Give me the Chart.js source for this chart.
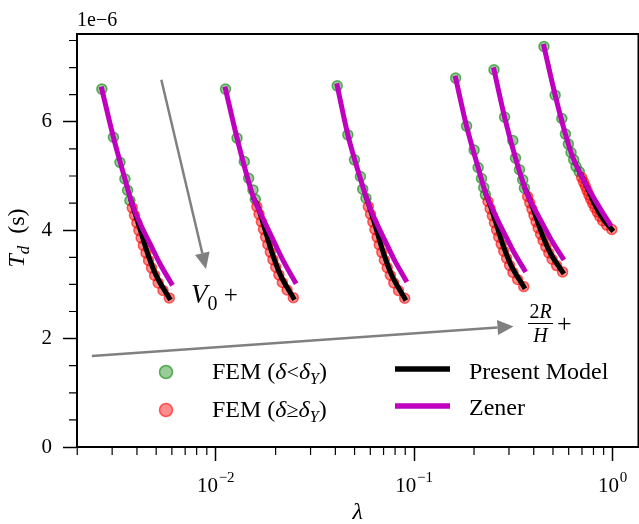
<!DOCTYPE html>
<html>
<head>
<meta charset="utf-8">
<script src="https://cdn.jsdelivr.net/npm/chart.js@4.4.0/dist/chart.umd.min.js"></script>
<style>
  html, body { margin: 0; padding: 0; background: #fff; overflow: hidden; }
  canvas { display: block; }
</style>
</head>
<body>
<canvas id="chart" width="645" height="524"></canvas>
<script>
// x = lambda, y = contact time T_d in units of 1e-6 s; one sub-array per curve group
const greenLam = [
    [0.002661, 0.003045, 0.003284, 0.003478, 0.003589, 0.003685],
    [0.01118, 0.01278, 0.01391, 0.01462, 0.01537, 0.01580],
    [0.04088, 0.04624, 0.04993, 0.05351, 0.05495, 0.05707],
    [0.1616, 0.1834, 0.2002, 0.2097, 0.2181, 0.2239, 0.2283],
    [0.2521, 0.2851, 0.3136, 0.3236, 0.3388, 0.3519, 0.3589],
    [0.4502, 0.5129, 0.5541, 0.5776, 0.5978, 0.6166, 0.6360, 0.6531, 0.6783]
];
const greenT = [
    [6.603, 5.714, 5.252, 4.946, 4.736, 4.547],
    [6.603, 5.699, 5.267, 4.959, 4.744, 4.572],
    [6.664, 5.760, 5.298, 4.990, 4.757, 4.591],
    [6.806, 5.921, 5.478, 5.157, 4.954, 4.788, 4.652],
    [6.960, 6.087, 5.656, 5.331, 5.115, 4.930, 4.776],
    [7.390, 6.492, 6.061, 5.773, 5.589, 5.434, 5.299, 5.175, 5.077]
];

const redLam = [
    [0.003789, 0.003888, 0.003995, 0.004093, 0.004200, 0.004310, 0.004441, 0.004578, 0.004737, 0.004913, 0.005118, 0.005412, 0.005820],
    [0.01609, 0.01650, 0.01695, 0.01736, 0.01781, 0.01827, 0.01881, 0.01938, 0.02004, 0.02078, 0.02163, 0.02285, 0.02455],
    [0.05867, 0.06017, 0.06179, 0.06329, 0.06491, 0.06658, 0.06857, 0.07063, 0.07304, 0.07571, 0.07882, 0.08326, 0.08942],
    [0.2352, 0.2411, 0.2475, 0.2534, 0.2598, 0.2663, 0.2742, 0.2823, 0.2918, 0.3022, 0.3144, 0.3318, 0.3560],
    [0.3727, 0.3819, 0.3917, 0.4009, 0.4108, 0.4209, 0.4330, 0.4455, 0.4601, 0.4763, 0.4949, 0.5216, 0.5589],
    [0.6974, 0.7122, 0.7279, 0.7426, 0.7583, 0.7743, 0.7935, 0.8131, 0.8361, 0.8613, 0.8903, 0.9316, 0.9888]
];
const redT = [
    [4.412, 4.274, 4.135, 3.997, 3.858, 3.720, 3.582, 3.443, 3.305, 3.166, 3.028, 2.889, 2.751],
    [4.436, 4.296, 4.156, 4.016, 3.876, 3.736, 3.596, 3.456, 3.316, 3.176, 3.036, 2.896, 2.756],
    [4.436, 4.295, 4.154, 4.013, 3.872, 3.731, 3.591, 3.450, 3.309, 3.168, 3.027, 2.886, 2.745],
    [4.529, 4.398, 4.267, 4.137, 4.006, 3.875, 3.744, 3.613, 3.483, 3.352, 3.221, 3.090, 2.960],
    [4.621, 4.505, 4.389, 4.274, 4.158, 4.042, 3.926, 3.810, 3.695, 3.579, 3.463, 3.347, 3.231],
    [4.972, 4.892, 4.812, 4.733, 4.653, 4.573, 4.493, 4.414, 4.334, 4.254, 4.174, 4.094, 4.015]
];

// present model: leaves the Zener curve where the FEM points turn red
const modelLam = [
    [0.003735, 0.003833, 0.004164, 0.004518, 0.004998, 0.005820],
    [0.01557, 0.01628, 0.01766, 0.01914, 0.02114, 0.02455],
    [0.05741, 0.05935, 0.06439, 0.06976, 0.07703, 0.08942],
    [0.2304, 0.2379, 0.2578, 0.2790, 0.3075, 0.3560],
    [0.3610, 0.3770, 0.4079, 0.4405, 0.4846, 0.5589],
    [0.6879, 0.7055, 0.7555, 0.8073, 0.8763, 0.9888]
];
const modelT = [
    [4.547, 4.412, 3.997, 3.582, 3.166, 2.751],
    [4.572, 4.436, 4.016, 3.596, 3.176, 2.756],
    [4.591, 4.436, 4.013, 3.591, 3.168, 2.745],
    [4.652, 4.529, 4.137, 3.744, 3.352, 2.960],
    [4.776, 4.621, 4.274, 3.926, 3.579, 3.231],
    [5.040, 4.972, 4.733, 4.493, 4.254, 4.015]
];

const zenerLam = [
    [0.002661, 0.003045, 0.003478, 0.003735, 0.003936, 0.004300, 0.004732, 0.005200, 0.005957],
    [0.01118, 0.01278, 0.01445, 0.01557, 0.01660, 0.01822, 0.01997, 0.02193, 0.02503],
    [0.04088, 0.04624, 0.05309, 0.05741, 0.06064, 0.06622, 0.07253, 0.07943, 0.09048],
    [0.1616, 0.1834, 0.2097, 0.2304, 0.2427, 0.2649, 0.2893, 0.3162, 0.3589],
    [0.2521, 0.2851, 0.3236, 0.3610, 0.3824, 0.4178, 0.4545, 0.4949, 0.5592],
    [0.4502, 0.5129, 0.5776, 0.6310, 0.6879, 0.7499, 0.8222, 0.8913, 0.9661]
];
const zenerT = [
    [6.603, 5.714, 4.946, 4.547, 4.320, 4.004, 3.699, 3.395, 3.022],
    [6.603, 5.699, 4.960, 4.572, 4.349, 4.034, 3.729, 3.424, 3.051],
    [6.664, 5.760, 4.990, 4.591, 4.357, 4.043, 3.746, 3.448, 3.083],
    [6.806, 5.921, 5.157, 4.652, 4.467, 4.163, 3.886, 3.607, 3.267],
    [6.960, 6.087, 5.331, 4.776, 4.560, 4.292, 4.043, 3.795, 3.489],
    [7.390, 6.492, 5.773, 5.335, 5.040, 4.781, 4.532, 4.320, 4.117]
];

const xTicks = [0.01, 0.1, 1];
const yTicks = [0, 2, 4, 6];

const SERIF = '"Liberation Serif", "Times New Roman", serif';
const GREEN_FILL = 'rgba(0, 128, 0, 0.4)';
const GREEN_EDGE = 'rgba(0, 128, 0, 0.6)';
const RED_FILL = 'rgba(255, 0, 0, 0.45)';
const RED_EDGE = 'rgba(255, 0, 0, 0.6)';
const MAGENTA = '#bf00bf';
const ARROW_GRAY = '#808080';

function toPoints(xs, ys) {
    return xs.map((x, i) => ({ x: x, y: ys[i] }));
}

// build datasets, one set of four per group
const datasets = [];
for (let g = 0; g < greenLam.length; g++) {
    datasets.push({
        type: 'line', label: 'Zener', data: toPoints(zenerLam[g], zenerT[g]),
        borderColor: MAGENTA, borderWidth: 5, pointRadius: 0, fill: false,
        cubicInterpolationMode: 'monotone', borderCapStyle: 'square', order: 0
    });
    datasets.push({
        type: 'line', label: 'Present Model', data: toPoints(modelLam[g], modelT[g]),
        borderColor: '#000', borderWidth: 5, pointRadius: 0, fill: false,
        cubicInterpolationMode: 'monotone', borderCapStyle: 'square', order: 1
    });
    datasets.push({
        type: 'scatter', label: 'FEM (δ≥δY)', data: toPoints(redLam[g], redT[g]),
        backgroundColor: RED_FILL, borderColor: RED_EDGE, borderWidth: 1.5, pointRadius: 5, order: 2
    });
    datasets.push({
        type: 'scatter', label: 'FEM (δ<δY)', data: toPoints(greenLam[g], greenT[g]),
        backgroundColor: GREEN_FILL, borderColor: GREEN_EDGE, borderWidth: 1.5, pointRadius: 5, order: 3
    });
}

// draws a row of text pieces (font, text, vertical shift); returns its width
function drawRun(ctx, parts, x, y, align) {
    let total = 0;
    parts.forEach(p => { ctx.font = p.font; total += ctx.measureText(p.text).width; });
    let cx = align === 'center' ? x - total / 2 : x;
    ctx.textAlign = 'left';
    ctx.textBaseline = 'alphabetic';
    parts.forEach(p => {
        ctx.font = p.font;
        ctx.fillText(p.text, cx, y + (p.dy || 0));
        cx += ctx.measureText(p.text).width;
    });
    return total;
}

function drawArrow(ctx, x1, y1, x2, y2) {
    const ang = Math.atan2(y2 - y1, x2 - x1);
    const hl = 16, hw = 7.5;
    const bx = x2 - hl * Math.cos(ang), by = y2 - hl * Math.sin(ang);
    ctx.strokeStyle = ARROW_GRAY;
    ctx.fillStyle = ARROW_GRAY;
    ctx.lineWidth = 2.5;
    ctx.beginPath();
    ctx.moveTo(x1, y1);
    ctx.lineTo(bx, by);
    ctx.stroke();
    ctx.beginPath();
    ctx.moveTo(x2, y2);
    ctx.lineTo(bx + hw * Math.sin(ang), by - hw * Math.cos(ang));
    ctx.lineTo(bx - hw * Math.sin(ang), by + hw * Math.cos(ang));
    ctx.closePath();
    ctx.fill();
}

// arrows given in data coordinates [lambda, T]
const arrows = [
    { from: [0.005309, 6.775], to: [0.008913, 3.286] },
    { from: [0.002371, 1.680], to: [0.3162, 2.224] }
];

const decorPlugin = {
    id: 'decor',
    afterDraw(chart) {
        const ctx = chart.ctx;
        const a = chart.chartArea;
        const xs = chart.scales.x;
        const ys = chart.scales.y;
        ctx.save();

        // top and right spines
        ctx.strokeStyle = '#000';
        ctx.lineWidth = 2;
        ctx.beginPath();
        ctx.moveTo(a.left, a.top);
        ctx.lineTo(a.right, a.top);
        ctx.lineTo(a.right, a.bottom);
        ctx.stroke();

        // minor ticks
        ctx.lineWidth = 1.2;
        ctx.beginPath();
        for (let v = 0.5; v < ys.max; v += 0.5) {
            if (v % 2 === 0) continue;
            const py = ys.getPixelForValue(v);
            ctx.moveTo(a.left - 8, py);
            ctx.lineTo(a.left, py);
        }
        for (let e = -3; e <= 0; e++) {
            for (let m = 2; m <= 9; m++) {
                const v = m * Math.pow(10, e);
                if (v < xs.min || v > xs.max) continue;
                const px = xs.getPixelForValue(v);
                ctx.moveTo(px, a.bottom);
                ctx.lineTo(px, a.bottom + 8);
            }
        }
        ctx.stroke();

        // x tick labels as 10 with a raised exponent
        ctx.fillStyle = '#000';
        xTicks.forEach(v => {
            const exp = Math.round(Math.log10(v));
            const sup = exp < 0 ? '\u2212' + (-exp) : String(exp);
            ctx.font = '21px ' + SERIF;
            const wBase = ctx.measureText('10').width;
            ctx.font = '15px ' + SERIF;
            const wSup = ctx.measureText(sup).width;
            const left = xs.getPixelForValue(v) - (wBase + wSup + 1) / 2;
            drawRun(ctx, [
                { text: '10', font: '21px ' + SERIF },
                { text: ' ', font: '3px ' + SERIF },
                { text: sup, font: '15px ' + SERIF, dy: -10 }
            ], left, a.bottom + 45, 'left');
        });

        // offset label
        drawRun(ctx, [{ text: '1e\u22126', font: '20px ' + SERIF }], a.left, a.top - 8, 'left');

        // axis titles
        drawRun(ctx, [{ text: 'λ', font: 'italic 24px ' + SERIF }], (a.left + a.right) / 2, 519, 'center');
        ctx.save();
        ctx.translate(24, 238);
        ctx.rotate(-Math.PI / 2);
        drawRun(ctx, [
            { text: 'T', font: 'italic 24px ' + SERIF },
            { text: 'd', font: 'italic 17px ' + SERIF, dy: 5 },
            { text: '  (s)', font: '24px ' + SERIF }
        ], 0, 0, 'center');
        ctx.restore();

        // arrows and their labels
        arrows.forEach(ar => {
            drawArrow(ctx,
                xs.getPixelForValue(ar.from[0]), ys.getPixelForValue(ar.from[1]),
                xs.getPixelForValue(ar.to[0]), ys.getPixelForValue(ar.to[1]));
        });
        ctx.fillStyle = '#000';
        drawRun(ctx, [
            { text: 'V', font: 'italic 27px ' + SERIF },
            { text: '0', font: '20px ' + SERIF, dy: 7 },
            { text: ' +', font: '25px ' + SERIF }
        ], 191, 303, 'left');

        const fx = 540.5;
        drawRun(ctx, [
            { text: '2', font: '20px ' + SERIF },
            { text: 'R', font: 'italic 20px ' + SERIF }
        ], fx, 318, 'center');
        drawRun(ctx, [{ text: 'H', font: 'italic 20px ' + SERIF }], fx, 342, 'center');
        ctx.strokeStyle = '#000';
        ctx.lineWidth = 1;
        ctx.beginPath();
        ctx.moveTo(fx - 12.5, 323.5);
        ctx.lineTo(fx + 12.5, 323.5);
        ctx.stroke();
        drawRun(ctx, [{ text: '+', font: '26px ' + SERIF }], 557, 332, 'left');

        // legend
        const dot = (x, y, fill, edge) => {
            ctx.beginPath();
            ctx.arc(x, y, 6.5, 0, Math.PI * 2);
            ctx.fillStyle = fill;
            ctx.fill();
            ctx.strokeStyle = edge;
            ctx.lineWidth = 1.5;
            ctx.stroke();
        };
        dot(166, 372, GREEN_FILL, GREEN_EDGE);
        dot(166, 410, RED_FILL, RED_EDGE);
        ctx.fillStyle = '#000';
        const fem = (sym) => [
            { text: 'FEM (', font: '24px ' + SERIF },
            { text: 'δ', font: 'italic 24px ' + SERIF },
            { text: sym, font: '22px ' + SERIF },
            { text: 'δ', font: 'italic 24px ' + SERIF },
            { text: 'Y', font: 'italic 16px ' + SERIF, dy: 5 },
            { text: ')', font: '24px ' + SERIF }
        ];
        drawRun(ctx, fem('<'), 212, 379, 'left');
        drawRun(ctx, fem('\u2265'), 212, 416.5, 'left');

        ctx.lineWidth = 5.5;
        ctx.strokeStyle = '#000';
        ctx.beginPath();
        ctx.moveTo(395, 369);
        ctx.lineTo(450, 369);
        ctx.stroke();
        ctx.strokeStyle = MAGENTA;
        ctx.beginPath();
        ctx.moveTo(395, 406);
        ctx.lineTo(450, 406);
        ctx.stroke();
        ctx.fillStyle = '#000';
        drawRun(ctx, [{ text: 'Present Model', font: '24px ' + SERIF }], 469, 379, 'left');
        drawRun(ctx, [{ text: 'Zener', font: '24px ' + SERIF }], 469, 415, 'left');

        ctx.restore();
    }
};

Chart.defaults.color = '#000';
Chart.defaults.font.family = SERIF;

const ctx = document.getElementById('chart').getContext('2d');
const chart = new Chart(ctx, {
    type: 'scatter',
    data: { datasets: datasets },
    options: {
        responsive: false,
        animation: false,
        devicePixelRatio: 1,
        layout: { padding: { top: 34, right: 2, left: 0, bottom: 0 } },
        plugins: {
            legend: { display: false },
            tooltip: { enabled: false }
        },
        scales: {
            x: {
                type: 'logarithmic',
                min: 0.001995,
                max: 1.349,
                afterBuildTicks: (s) => { s.ticks = xTicks.map(v => ({ value: v, major: true })); },
                afterFit: (s) => { s.height = 77; },
                ticks: { display: false },
                grid: { display: true, drawOnChartArea: false, drawTicks: true, tickLength: 14, tickWidth: 1.5, tickColor: '#000', color: '#000' },
                border: { display: true, color: '#000', width: 2 }
            },
            y: {
                type: 'linear',
                min: 0,
                max: 7.62,
                afterBuildTicks: (s) => { s.ticks = yTicks.map(v => ({ value: v })); },
                afterFit: (s) => { s.width = 77; },
                ticks: { font: { size: 21, family: SERIF }, color: '#000', padding: 11, callback: (v) => String(v) },
                grid: { display: true, drawOnChartArea: false, drawTicks: true, tickLength: 14, tickWidth: 1.5, tickColor: '#000', color: '#000' },
                border: { display: true, color: '#000', width: 2 }
            }
        }
    },
    plugins: [decorPlugin]
});
</script>
</body>
</html>
